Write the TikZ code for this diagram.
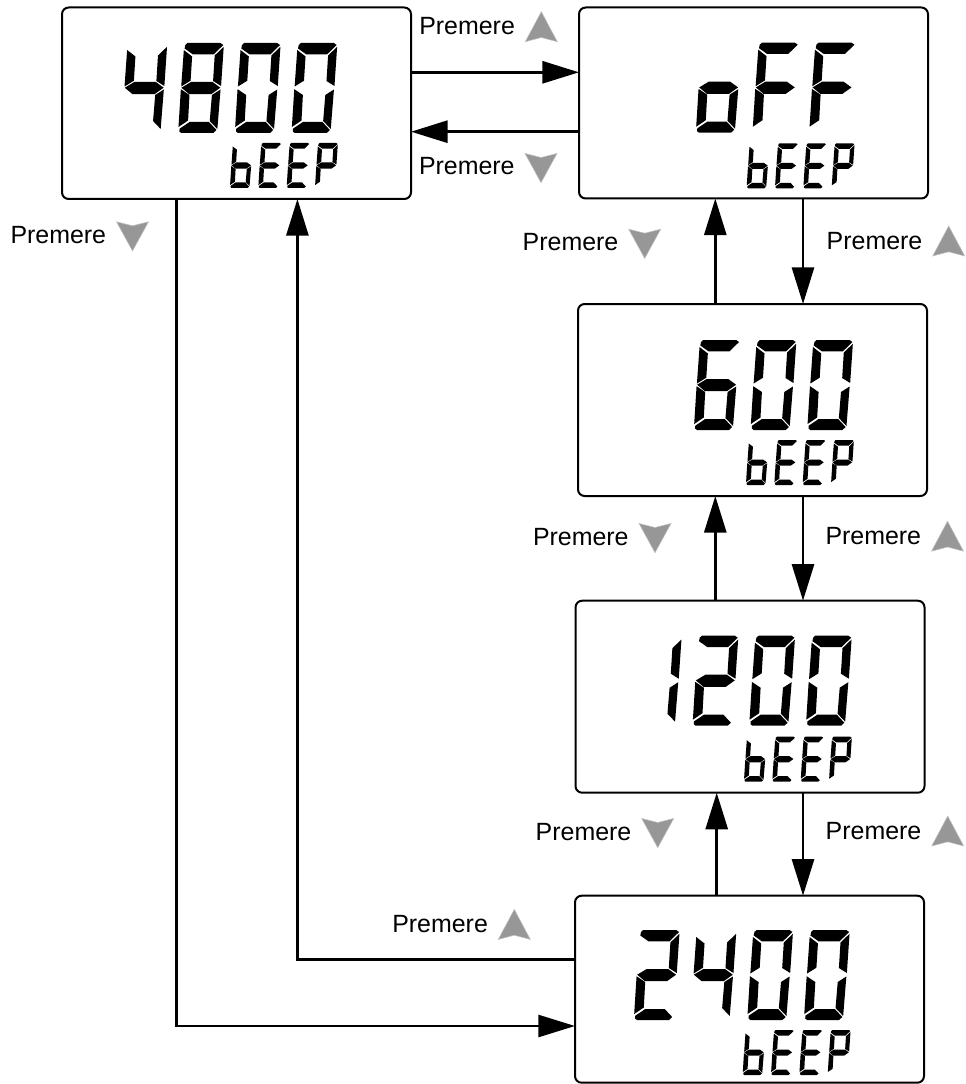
\documentclass[tikz,border=0pt]{standalone}
\usepackage{fontspec}
\setmainfont{Liberation Sans}
\usepackage{tikz}
\usetikzlibrary{arrows.meta,calc}
\definecolor{cKey}{HTML}{979797}
\definecolor{cInk}{HTML}{000000}
\def\px{.75pt}
% lcd segments, digit box 40 x 90, y up
\def\sega{(3.5,90)--(36.5,90)--(39.5,88)--(30.5,78.7)--(9.5,78.7)--(1,84.5)--(1.5,88)--cycle}
\def\segb{(40,86.2)--(31.5,77.5)--(31.5,52)--(39.8,47)--cycle}
\def\segc{(39.5,43.5)--(31.2,38)--(30.7,12)--(38.8,4)--cycle}
\def\segd{(1,4.3)--(10.5,11)--(30,11)--(38,3)--(35,0)--(3,0)--(1,1.5)--cycle}
\def\sege{(-.2,43.8)--(8.8,38)--(9,12.5)--(-.2,6)--cycle}
\def\segf{(.3,83)--(9,76.5)--(9,52.3)--(0,46.5)--cycle}
\def\segg{(.3,45.3)--(9.5,51)--(31,51)--(39.2,45.3)--(30.5,38.8)--(8.5,38.8)--cycle}
\expandafter\def\csname chr0\endcsname{a,b,c,d,e,f}
\expandafter\def\csname chr1\endcsname{b,c}
\expandafter\def\csname chr2\endcsname{a,b,g,e,d}
\expandafter\def\csname chr4\endcsname{f,g,b,c}
\expandafter\def\csname chr6\endcsname{a,f,g,e,d,c}
\expandafter\def\csname chr8\endcsname{a,b,c,d,e,f,g}
\expandafter\def\csname chrb\endcsname{f,g,e,d,c}
\expandafter\def\csname chrE\endcsname{a,f,g,e,d}
\expandafter\def\csname chrP\endcsname{a,b,f,g,e}
\expandafter\def\csname chro\endcsname{g,c,d,e}
\expandafter\def\csname chrF\endcsname{a,f,g,e}
\newcommand{\lcdword}[4]{%
  \foreach \c [count=\i from 0] in {#4} {
    \begin{scope}[shift={(#1+\i*56.7*#3,#2)},y=\px,scale=#3,xslant=.063]
      \edef\segs{\csname chr\c\endcsname}
      \foreach \s in \segs
        \fill[cInk] \csname seg\s\endcsname;
    \end{scope}
  }}
\begin{document}
\begin{tikzpicture}[x=\px,y=-\px,font=\fontsize{18.7}{22}\selectfont,
    lcdbox/.style={draw=cInk,line width=1.5pt,rounded corners=5pt,rectangle,inner sep=0pt,outer sep=0pt,anchor=north west},
    conn/.style={draw=cInk,line width=2.2pt,-{Triangle[length=27.5pt,width=16.5pt]}},
    lab/.style={anchor=base west,inner sep=0pt,outer sep=0pt,text=cInk},
    big/.style={anchor=base west,inner sep=0pt,text opacity=0,font=\fontsize{76}{80}\selectfont},
    small/.style={anchor=base west,inner sep=0pt,text opacity=0,font=\fontsize{33}{36}\selectfont},
    upkey/.pic={\fill[cKey,draw=cKey!60,line width=.4pt] (0,-23.3)--(16,6.7)--(0,2.5)--(-16,6.7)--cycle;},
    downkey/.pic={\fill[cKey,draw=cKey!60,line width=.4pt] (-16,-21.5)--(0,-17.5)--(16,-21.5)--(0,7.7)--cycle;}]
  \useasboundingbox (0,0) rectangle (966,1084);
  \node[lcdbox,minimum width=349*\px,minimum height=191.5*\px] (b4800) at (62,7.5) {};
  \node[lcdbox,minimum width=349*\px,minimum height=191*\px] (bOff) at (579,7.5) {};
  \node[lcdbox,minimum width=349*\px,minimum height=192*\px] (b600) at (578,304) {};
  \node[lcdbox,minimum width=349*\px,minimum height=192*\px] (b1200) at (575.5,600.7) {};
  \node[lcdbox,minimum width=349*\px,minimum height=187*\px] (b2400) at (575,895.7) {};

  % readouts: segments on top of a text layer
  \node[big] (t4800) at (121.6,133) {4800};
  \node[big] (tOff) at (696,132.7) {oFF};
  \node[big] (t600) at (694,430) {600};
  \node[big] (t1200) at (636,725.7) {1200};
  \node[big] (t2400) at (634,1020) {2400};
  \foreach \n/\x/\y in {a/230/188,b/746.7/188.3,c/746/485,d/744/781.7,e/742.7/1075}
    \node[small] (beep\n) at (\x,\y) {bEEP};
  \lcdword{121.6}{133}{1}{4,8,0,0}
  \lcdword{230}{188}{.5}{b,E,E,P}
  \lcdword{696}{132.7}{1}{o,F,F}
  \lcdword{746.7}{188.3}{.5}{b,E,E,P}
  \lcdword{694}{430}{1}{6,0,0}
  \lcdword{746}{485}{.5}{b,E,E,P}
  \lcdword{636}{725.7}{1}{1,2,0,0}
  \lcdword{744}{781.7}{.5}{b,E,E,P}
  \lcdword{634}{1020}{1}{2,4,0,0}
  \lcdword{742.7}{1075}{.5}{b,E,E,P}

  \coordinate (rTop) at (0,72.3);
  \coordinate (rBack) at (0,131.7);
  \coordinate (rTurn) at (297.4,959.3);
  \coordinate (rDown) at (176.7,1026);
  \draw[conn] (b4800.east |- rTop) -- (bOff.west |- rTop);
  \draw[conn] (bOff.west |- rBack) -- (b4800.east |- rBack);
  \foreach \lo/\hi/\xu in {b600/bOff/715.3,b1200/b600/715.3,b2400/b1200/716.7} {
    \coordinate (cU) at (\xu,0);
    \coordinate (cD) at (803,0);
    \draw[conn] (cU |- \lo.north) -- (cU |- \hi.south);
    \draw[conn] (cD |- \hi.south) -- (cD |- \lo.north);
  }
  \draw[conn] (b2400.west |- rTurn) -- (rTurn) -- (rTurn |- b4800.south);
  \draw[conn,line width=1.9pt] (rDown |- b4800.south) -- (rDown) -- (rDown -| b2400.west);

  \foreach \x/\y [count=\i] in {419.3/35,826.7/249.3,825.5/544.5,825.7/839.3,392.3/932.7} {
    \node[lab] (lu\i) at (\x,\y) {Premere};
    \pic at (\x+122,\y) {upkey};
  }
  \foreach \x/\y [count=\i] in {419/175,10.5/243.3,522.7/250.7,533/545,535.7/840} {
    \node[lab] (ld\i) at (\x,\y) {Premere};
    \pic at (\x+122,\y) {downkey};
  }
\end{tikzpicture}
\end{document}
